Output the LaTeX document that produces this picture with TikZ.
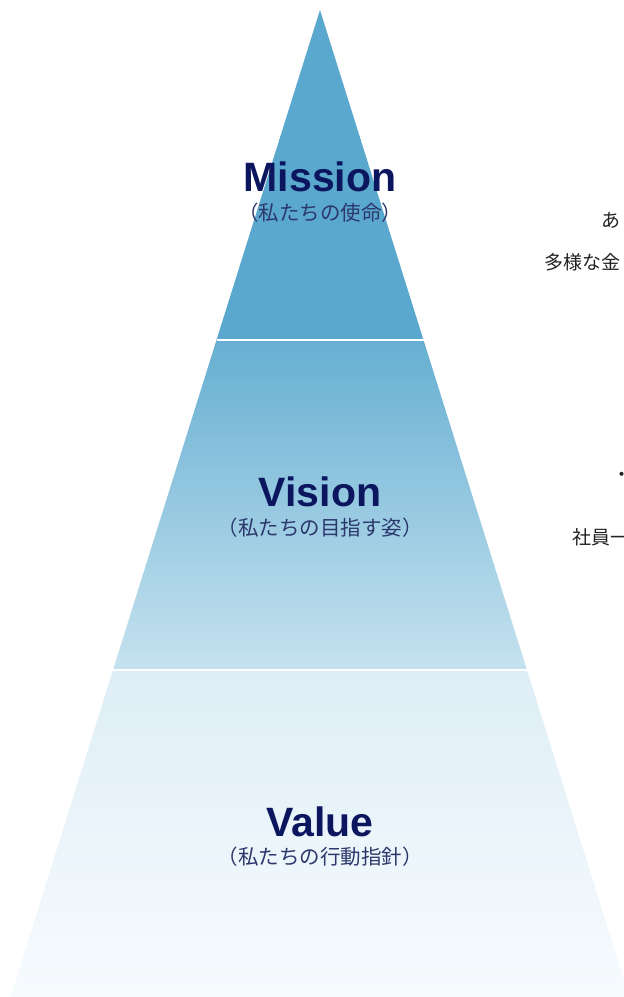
\documentclass[tikz,border=0pt]{standalone}
\usepackage{fontspec}
\setmainfont{Liberation Sans}
\newfontfamily\jpfont{Noto Sans CJK JP}
\usepackage{tikz}
\usetikzlibrary{positioning}

\definecolor{topblue}{RGB}{90,168,205}
\definecolor{midtop}{RGB}{102,175,210}
\definecolor{midbot}{RGB}{198,226,239}
\definecolor{lowtop}{RGB}{222,238,246}
\definecolor{lowbot}{RGB}{247,251,254}
\definecolor{navy}{RGB}{12,22,94}
\definecolor{subnavy}{RGB}{44,56,108}
\definecolor{sidetext}{RGB}{34,34,34}

\tikzset{
  title/.style={inner sep=0pt,text=navy,font=\fontsize{41}{41}\selectfont\bfseries},
  subtitle/.style={inner sep=0pt,text=subnavy,font=\jpfont\fontsize{20.5}{20.5}\selectfont},
  side/.style={inner sep=0pt,anchor=west,text=sidetext,font=\jpfont\fontsize{19}{19}\selectfont},
  sep/.style={draw=white,line width=1.5pt}
}

\begin{document}
\begin{tikzpicture}[x=1pt,y=1pt]
        \useasboundingbox (0,0) rectangle (624,997);
        \clip (0,0) rectangle (624,997);
        \coordinate (apex) at (320,987);
        \coordinate (ul) at (216.5,657); \coordinate (ur) at (423.5,657);
        \coordinate (ml) at (113,327); \coordinate (mr) at (527,327);
        \coordinate (bl) at (10.5,0); \coordinate (br) at (629.5,0);
        % three layers
        \fill[topblue] (apex) -- (ur) -- (ul) -- cycle;
        \shade[top color=midtop,bottom color=midbot] (ul) -- (ur) -- (mr) -- (ml) -- cycle;
        \shade[top color=lowtop,bottom color=lowbot] (ml) -- (mr) -- (br) -- (bl) -- cycle;
        \draw[sep] (ul) -- (ur);
        \draw[sep] (ml) -- (mr);
        % labels
        \node[title] (mission) at (320,820) {Mission};
        \node[subtitle] (missionsub) at (320,784) {（私たちの使命）};
        \node[title] (vision) at (320,505) {Vision};
        \node[subtitle] (visionsub) at (320,469) {（私たちの目指す姿）};
        \node[title] (value) at (320,175) {Value};
        \node[subtitle] (valuesub) at (320,140) {（私たちの行動指針）};
        % text on the right
        \node[side] (mtext1) at (601,777) {あ};
        \node[side] (mtext2) at (544,735) {多様な金};
        \node[side] (vtext1) at (612,520) {・};
        \node[side] (vtext2) at (572,460) {社員一};
\end{tikzpicture}
\end{document}
